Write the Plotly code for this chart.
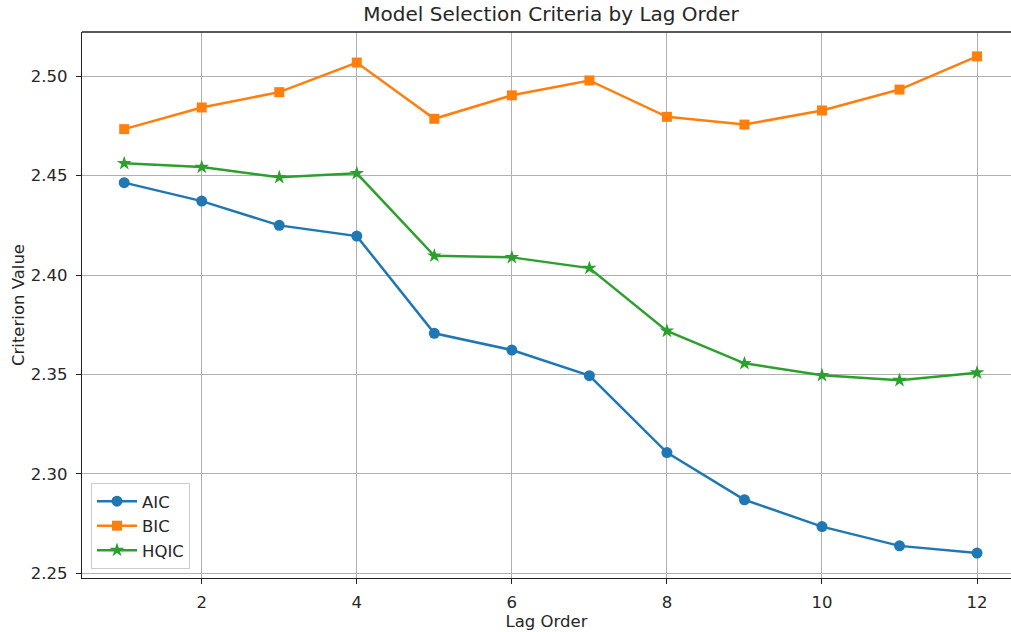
import plotly.graph_objects as go

lags = [1, 2, 3, 4, 5, 6, 7, 8, 9, 10, 11, 12]
aic = [2.4465, 2.4372, 2.4250, 2.4196, 2.3707, 2.3623, 2.3494, 2.3107, 2.2870, 2.2735, 2.2638, 2.2602]
bic = [2.4734, 2.4843, 2.4920, 2.5069, 2.4786, 2.4904, 2.4979, 2.4796, 2.4757, 2.4828, 2.4933, 2.5100]
hqic = [2.4562, 2.4543, 2.4492, 2.4512, 2.4097, 2.4089, 2.4035, 2.3719, 2.3556, 2.3496, 2.3471, 2.3509]

y_ticks = [2.25, 2.30, 2.35, 2.40, 2.45, 2.50]
x_ticks = [2, 4, 6, 8, 10, 12]

FONT = "DejaVu Sans"
TXT = "#262626"
FS = 16.5

fig = go.Figure()
fig.add_trace(go.Scatter(x=lags, y=aic, name="AIC", mode="lines+markers",
                         line=dict(color="#1f77b4", width=2.5),
                         marker=dict(symbol="circle", size=11, color="#1f77b4")))
fig.add_trace(go.Scatter(x=lags, y=bic, name="BIC", mode="lines+markers",
                         line=dict(color="#ff7f0e", width=2.5),
                         marker=dict(symbol="square", size=10, color="#ff7f0e")))
fig.add_trace(go.Scatter(x=lags, y=hqic, name="HQIC", mode="lines+markers",
                         line=dict(color="#2ca02c", width=2.5),
                         marker=dict(symbol="star", size=11, color="#2ca02c")))

fig.update_layout(
    width=1011, height=632,
    margin=dict(l=82, r=0, t=32, b=54, autoexpand=False),
    paper_bgcolor="white", plot_bgcolor="white",
    font=dict(family=FONT, size=FS, color=TXT),
    title=dict(text="Model Selection Criteria by Lag Order", font=dict(size=20, color=TXT),
               x=551 / 1011, xref="container", xanchor="center",
               y=1 - 14 / 632, yref="container", yanchor="middle"),
    showlegend=True,
    legend=dict(x=(91 - 82) / 929, y=(578 - 569) / 546, xanchor="left", yanchor="bottom",
                bgcolor="rgba(255,255,255,0.8)", bordercolor="#cccccc", borderwidth=1,
                font=dict(size=FS, color=TXT), itemwidth=40,
                tracegroupgap=2),
)

fig.update_xaxes(range=[0.4557, 12.438], tickvals=x_ticks, ticktext=[str(v) for v in x_ticks],
                 showgrid=True, gridcolor="#b0b0b0", gridwidth=1.3,
                 showline=True, linecolor="#222222", linewidth=1.3, mirror=False,
                 ticks="outside", ticklen=5, tickwidth=1.3, tickcolor="#222222",
                 zeroline=False, automargin=False, ticklabelstandoff=4,
                 title=dict(text="Lag Order", font=dict(size=FS, color=TXT), standoff=3))
fig.update_yaxes(range=[2.24764, 2.52226], tickvals=y_ticks, ticktext=[f"{v:.2f}" for v in y_ticks],
                 showgrid=True, gridcolor="#b0b0b0", gridwidth=1.3,
                 showline=True, linecolor="#222222", linewidth=1.3, mirror=False,
                 ticks="outside", ticklen=5, tickwidth=1.3, tickcolor="#222222",
                 zeroline=False, automargin=False, ticklabelstandoff=5,
                 title=dict(text="Criterion Value", font=dict(size=FS, color=TXT), standoff=2))

# top spine
fig.add_shape(type="line", xref="paper", yref="paper", x0=0, x1=1, y0=1, y1=1,
              line=dict(color="#222222", width=1.3))

fig.write_html("out.html", config={"displayModeBar": False},
               post_script="document.body.style.margin='0';document.body.style.overflow='hidden';")
